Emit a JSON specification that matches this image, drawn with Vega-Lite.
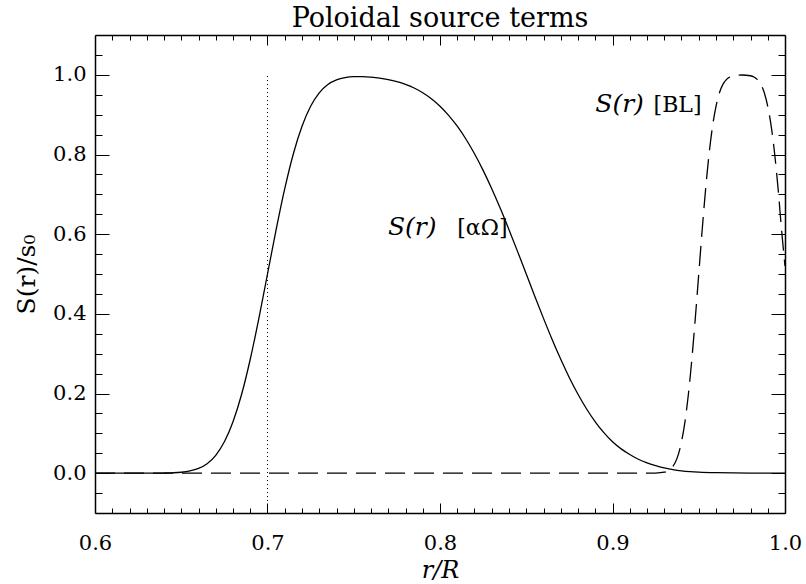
{
  "$schema": "https://vega.github.io/schema/vega-lite/v6.json",
  "width": 690,
  "height": 478,
  "autosize": "none",
  "padding": {"left": 95, "top": 35, "right": 21, "bottom": 71},
  "background": "white",
  "title": {"text": "Poloidal source terms", "font": "DejaVu Serif", "fontSize": 27, "fontWeight": "normal", "color": "black", "anchor": "middle", "frame": "group", "baseline": "alphabetic", "offset": -19},
  "config": {
    "view": {"stroke": null},
    "axis": {"grid": false, "domainColor": "black", "domainWidth": 1.5, "tickColor": "black", "tickWidth": 1, "labelColor": "black", "titleColor": "black", "labelFont": "DejaVu Serif", "titleFont": "DejaVu Serif", "labelFontSize": 21, "titleFontWeight": "normal"}
  },
  "datasets": {
    "ao": [
      {"r": 0.6, "s": 0}, {"r": 0.62, "s": 0}, {"r": 0.63, "s": 0.00004}, {"r": 0.635, "s": 0.0001}, {"r": 0.64, "s": 0.00035}, {"r": 0.645, "s": 0.00093}, {"r": 0.65, "s": 0.0023}, {"r": 0.655, "s": 0.0055}, {"r": 0.66, "s": 0.0119}, {"r": 0.665, "s": 0.0239}, {"r": 0.67, "s": 0.0449}, {"r": 0.675, "s": 0.0787}, {"r": 0.68, "s": 0.129}, {"r": 0.685, "s": 0.198}, {"r": 0.69, "s": 0.286}, {"r": 0.695, "s": 0.3887}, {"r": 0.7, "s": 0.5}, {"r": 0.705, "s": 0.6113}, {"r": 0.71, "s": 0.7142}, {"r": 0.715, "s": 0.8019}, {"r": 0.72, "s": 0.8709}, {"r": 0.725, "s": 0.9212}, {"r": 0.73, "s": 0.9548}, {"r": 0.735, "s": 0.9756}, {"r": 0.74, "s": 0.9872}, {"r": 0.745, "s": 0.9931}, {"r": 0.75, "s": 0.9953}, {"r": 0.755, "s": 0.9955}, {"r": 0.76, "s": 0.9942}, {"r": 0.765, "s": 0.9918}, {"r": 0.77, "s": 0.9881}, {"r": 0.775, "s": 0.983}, {"r": 0.78, "s": 0.9761}, {"r": 0.785, "s": 0.967}, {"r": 0.79, "s": 0.9551}, {"r": 0.795, "s": 0.9401}, {"r": 0.8, "s": 0.9213}, {"r": 0.805, "s": 0.8984}, {"r": 0.81, "s": 0.871}, {"r": 0.815, "s": 0.8389}, {"r": 0.82, "s": 0.8019}, {"r": 0.825, "s": 0.7602}, {"r": 0.83, "s": 0.7142}, {"r": 0.835, "s": 0.6643}, {"r": 0.84, "s": 0.6113}, {"r": 0.845, "s": 0.5562}, {"r": 0.85, "s": 0.5}, {"r": 0.855, "s": 0.4437}, {"r": 0.86, "s": 0.3886}, {"r": 0.865, "s": 0.3357}, {"r": 0.87, "s": 0.2858}, {"r": 0.875, "s": 0.2397}, {"r": 0.88, "s": 0.198}, {"r": 0.885, "s": 0.1611}, {"r": 0.89, "s": 0.129}, {"r": 0.895, "s": 0.1016}, {"r": 0.9, "s": 0.0787}, {"r": 0.905, "s": 0.061}, {"r": 0.91, "s": 0.047}, {"r": 0.915, "s": 0.035}, {"r": 0.92, "s": 0.026}, {"r": 0.925, "s": 0.019}, {"r": 0.93, "s": 0.013}, {"r": 0.935, "s": 0.009}, {"r": 0.94, "s": 0.006}, {"r": 0.945, "s": 0.004}, {"r": 0.95, "s": 0.0027}, {"r": 0.96, "s": 0.0012}, {"r": 0.97, "s": 0.0005}, {"r": 0.98, "s": 0.0002}, {"r": 0.99, "s": 0.0001}, {"r": 1.0, "s": 0}
    ],
    "bl": [
      {"r": 0.6, "s": 0}, {"r": 0.92, "s": 0}, {"r": 0.925, "s": 0.0002}, {"r": 0.93, "s": 0.0024}, {"r": 0.935, "s": 0.017}, {"r": 0.94, "s": 0.079}, {"r": 0.942, "s": 0.129}, {"r": 0.944, "s": 0.198}, {"r": 0.946, "s": 0.286}, {"r": 0.948, "s": 0.389}, {"r": 0.95, "s": 0.5}, {"r": 0.952, "s": 0.611}, {"r": 0.954, "s": 0.714}, {"r": 0.956, "s": 0.802}, {"r": 0.958, "s": 0.871}, {"r": 0.96, "s": 0.921}, {"r": 0.962, "s": 0.955}, {"r": 0.964, "s": 0.976}, {"r": 0.966, "s": 0.988}, {"r": 0.968, "s": 0.9945}, {"r": 0.97, "s": 0.9977}, {"r": 0.975, "s": 0.9996}, {"r": 0.98, "s": 0.9977}, {"r": 0.982, "s": 0.9945}, {"r": 0.984, "s": 0.988}, {"r": 0.986, "s": 0.976}, {"r": 0.988, "s": 0.955}, {"r": 0.99, "s": 0.921}, {"r": 0.992, "s": 0.871}, {"r": 0.994, "s": 0.802}, {"r": 0.996, "s": 0.714}, {"r": 0.998, "s": 0.611}, {"r": 1.0, "s": 0.52}
    ]
  },
  "resolve": {"axis": {"x": "independent", "y": "independent"}},
  "layer": [
    {
      "data": {"name": "ao"},
      "mark": {"type": "line", "color": "black", "strokeWidth": 1.3, "interpolate": "monotone"},
      "encoding": {
        "x": {"field": "r", "type": "quantitative", "scale": {"domain": [0.6, 1.0], "nice": false, "zero": false},
          "axis": {"orient": "bottom", "values": [0.6, 0.7, 0.8, 0.9, 1.0], "format": ".1f", "ticks": false, "domain": true, "labelPadding": 19, "labelFlush": false, "title": "r/R", "titleFontStyle": "italic", "titleFontSize": 24, "titleY": 64, "titleBaseline": "alphabetic"}},
        "y": {"field": "s", "type": "quantitative", "scale": {"domain": [-0.1, 1.1], "nice": false, "zero": false},
          "axis": {"orient": "left", "values": [0, 0.2, 0.4, 0.6, 0.8, 1.0], "format": ".1f", "ticks": false, "domain": true, "labelPadding": 9, "labelFlush": false, "title": "S(r)/s₀", "titleFontSize": 25, "titleX": -69, "titleY": 239, "titleAngle": -90, "titleAlign": "center", "titleBaseline": "middle"}}
      }
    },
    {
      "data": {"name": "bl"},
      "mark": {"type": "line", "color": "black", "strokeWidth": 1.3, "strokeDash": [20, 9], "interpolate": "monotone"},
      "encoding": {
        "x": {"field": "r", "type": "quantitative", "scale": {"domain": [0.6, 1.0], "nice": false, "zero": false},
          "axis": {"orient": "bottom", "values": [0.6, 0.7, 0.8, 0.9, 1.0], "tickSize": -10, "labels": false, "domain": false, "title": null}},
        "y": {"field": "s", "type": "quantitative", "scale": {"domain": [-0.1, 1.1], "nice": false, "zero": false},
          "axis": {"orient": "left", "values": [0, 0.2, 0.4, 0.6, 0.8, 1.0], "tickSize": -14, "labels": false, "domain": false, "title": null}}
      }
    },
    {
      "data": {"values": [{"r": 0.7, "y0": -0.1, "y1": 1.0}]},
      "mark": {"type": "rule", "color": "black", "strokeWidth": 1, "strokeDash": [1, 3]},
      "encoding": {
        "x": {"field": "r", "type": "quantitative", "scale": {"domain": [0.6, 1.0], "nice": false, "zero": false},
          "axis": {"orient": "bottom", "values": [0.61, 0.62, 0.63, 0.64, 0.65, 0.66, 0.67, 0.68, 0.69, 0.71, 0.72, 0.73, 0.74, 0.75, 0.76, 0.77, 0.78, 0.79, 0.81, 0.82, 0.83, 0.84, 0.85, 0.86, 0.87, 0.88, 0.89, 0.91, 0.92, 0.93, 0.94, 0.95, 0.96, 0.97, 0.98, 0.99], "tickSize": -5, "labels": false, "domain": false, "title": null}},
        "y": {"field": "y0", "type": "quantitative", "scale": {"domain": [-0.1, 1.1], "nice": false, "zero": false},
          "axis": {"orient": "left", "values": [-0.05, 0.05, 0.1, 0.15, 0.25, 0.3, 0.35, 0.45, 0.5, 0.55, 0.65, 0.7, 0.75, 0.85, 0.9, 0.95, 1.05], "tickSize": -7, "labels": false, "domain": false, "title": null}},
        "y2": {"field": "y1"}
      }
    },
    {
      "data": {"values": [{"r": 0.7698, "s": 0.597, "t": "S(r)"}, {"r": 0.89, "s": 0.906, "t": "S(r)"}]},
      "mark": {"type": "text", "font": "DejaVu Serif", "fontSize": 25, "fontStyle": "italic", "align": "left", "baseline": "alphabetic", "color": "black"},
      "encoding": {
        "x": {"field": "r", "type": "quantitative", "scale": {"domain": [0.6, 1.0], "nice": false, "zero": false},
          "axis": {"orient": "top", "values": [0.6, 0.7, 0.8, 0.9, 1.0], "tickSize": -10, "labels": false, "domain": true, "title": null}},
        "y": {"field": "s", "type": "quantitative", "scale": {"domain": [-0.1, 1.1], "nice": false, "zero": false},
          "axis": {"orient": "right", "values": [0, 0.2, 0.4, 0.6, 0.8, 1.0], "tickSize": -14, "labels": false, "domain": true, "title": null}},
        "text": {"field": "t"}
      }
    },
    {
      "data": {"values": [{"r": 0.81, "s": 0.597, "t": "[αΩ]"}, {"r": 0.9238, "s": 0.906, "t": "[BL]"}]},
      "mark": {"type": "text", "font": "DejaVu Serif", "fontSize": 22, "align": "left", "baseline": "alphabetic", "color": "black"},
      "encoding": {
        "x": {"field": "r", "type": "quantitative", "scale": {"domain": [0.6, 1.0], "nice": false, "zero": false},
          "axis": {"orient": "top", "values": [0.61, 0.62, 0.63, 0.64, 0.65, 0.66, 0.67, 0.68, 0.69, 0.71, 0.72, 0.73, 0.74, 0.75, 0.76, 0.77, 0.78, 0.79, 0.81, 0.82, 0.83, 0.84, 0.85, 0.86, 0.87, 0.88, 0.89, 0.91, 0.92, 0.93, 0.94, 0.95, 0.96, 0.97, 0.98, 0.99], "tickSize": -5, "labels": false, "domain": false, "title": null}},
        "y": {"field": "s", "type": "quantitative", "scale": {"domain": [-0.1, 1.1], "nice": false, "zero": false},
          "axis": {"orient": "right", "values": [-0.05, 0.05, 0.1, 0.15, 0.25, 0.3, 0.35, 0.45, 0.5, 0.55, 0.65, 0.7, 0.75, 0.85, 0.9, 0.95, 1.05], "tickSize": -7, "labels": false, "domain": false, "title": null}},
        "text": {"field": "t"}
      }
    }
  ]
}
